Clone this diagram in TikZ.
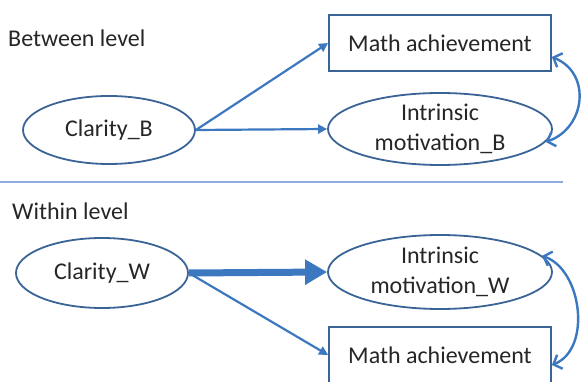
\documentclass[tikz,border=0pt]{standalone}
\usepackage{fontspec}
\setmainfont{Carlito}
\usetikzlibrary{shapes.geometric,arrows.meta}
\definecolor{nodeblue}{HTML}{3A6496}
\definecolor{arrowblue}{HTML}{3C78C0}
\definecolor{sepblue}{HTML}{8FAADC}
\definecolor{txt}{HTML}{262626}
\tikzset{
  every node/.style={text=txt,font=\fontsize{24}{29.5}\selectfont},
  ell/.style={ellipse,draw=nodeblue,line width=1.8pt,inner sep=0pt,align=center},
  boxnode/.style={rectangle,draw=nodeblue,line width=1.8pt,inner sep=0pt,align=center},
  path/.style={draw=arrowblue,line width=2.2pt,-{Triangle[length=9pt,width=9pt]}},
  thickpath/.style={draw=arrowblue,line width=7pt,-{Triangle[length=22pt,width=24pt]}},
  cov/.style={draw=arrowblue,line width=2.4pt,{Straight Barb[length=7pt,width=15pt]}-{Straight Barb[length=7pt,width=15pt]}},
  lvl/.style={anchor=west,inner sep=0pt},
}
\begin{document}
\begin{tikzpicture}[x=1pt,y=-1pt]
\useasboundingbox (0,0) rectangle (581,382);
\begin{scope}
\clip (0,0) rectangle (581,382);
% level labels
\node[lvl] (bl) at (8,38) {Between level};
\node[lvl] (wl) at (12,211) {Within level};
% separator
\coordinate (s1) at (0,182);
\coordinate (s2) at (563,182);
\draw[sepblue,line width=2pt] (s1) -- (s2);
% between nodes
\node[ell,minimum width=172pt,minimum height=68pt] (cb) at (109,130) {Clarity\_B};
\node[boxnode,minimum width=222pt,minimum height=56pt] (mab) at (440,43) {Math achievement};
\node[ell,minimum width=224pt,minimum height=72pt] (imb) at (440,129) {Intrinsic\\motivation\_B};
% within nodes
\node[ell,minimum width=172pt,minimum height=70pt] (cw) at (102,273) {Clarity\_W};
\node[ell,minimum width=224pt,minimum height=74pt] (imw) at (440,272) {Intrinsic\\motivation\_W};
\node[boxnode,minimum width=222pt,minimum height=56pt] (maw) at (440,355) {Math achievement};
% between paths
\draw[path] (cb.east) -- (mab.west);
\draw[path] (cb.east) -- (imb.west);
\draw[cov] ([yshift=-14pt]mab.east) .. controls +(40,16) and +(40,-14) .. (imb.-7);
% within paths
\draw[thickpath] (cw.east) -- (imw.west);
\draw[path] (cw.east) -- (maw.west);
\draw[cov] (imw.9) .. controls +(40,14) and +(40,-16) .. ([yshift=-10pt]maw.east);
\end{scope}
\end{tikzpicture}
\end{document}
